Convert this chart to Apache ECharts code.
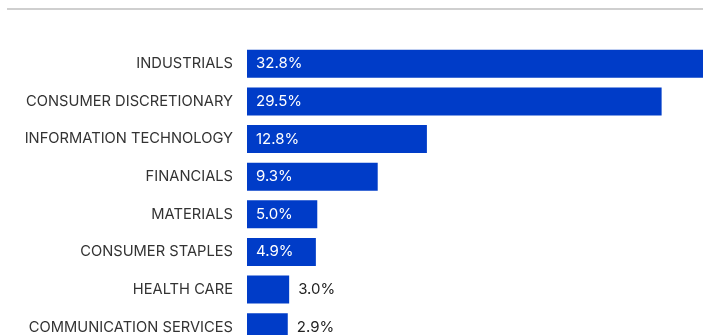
<!DOCTYPE html>
<html lang="en">
<head>
    <meta charset="UTF-8">
    <title>Sector weights</title>
    <style>
        html, body {
            width: 100%;
            height: 100%;
            margin: 0;
            padding: 0;
            overflow: hidden;
            background: #fff;
        }
        /* chart is a bit bigger than the window: top bar and last row run off the edge */
        #chart {
            width: 708px;
            height: 346px;
        }
    </style>
</head>
<body>
    <div id="chart"></div>
    <script src="https://cdn.jsdelivr.net/npm/echarts@6/dist/echarts.min.js"></script>
    <script>
        var sectors = ['INDUSTRIALS', 'CONSUMER DISCRETIONARY', 'INFORMATION TECHNOLOGY', 'FINANCIALS',
            'MATERIALS', 'CONSUMER STAPLES', 'HEALTH CARE', 'COMMUNICATION SERVICES'];
        var weights = [32.8, 29.5, 12.8, 9.3, 5.0, 4.9, 3.0, 2.9];

        var chart = echarts.init(document.getElementById('chart'));

        // small bars get their label outside
        var barData = weights.map(function(v) {
            var inside = v >= 4;
            return {
                value: v,
                label: {
                    position: inside ? 'insideLeft' : 'right',
                    distance: 9,
                    color: inside ? '#fff' : '#222'
                }
            };
        });

        chart.setOption({
            animation: false,
            grid: {
                left: 247,
                right: 0,
                top: 45,
                bottom: 0
            },
            graphic: [{
                type: 'line',
                shape: { x1: 7, y1: 9, x2: 708, y2: 9 },
                style: { stroke: '#cfcfcf', lineWidth: 2 }
            }],
            xAxis: {
                type: 'value',
                min: 0,
                max: 32.8,
                show: false
            },
            yAxis: {
                type: 'category',
                data: sectors,
                inverse: true,
                axisLine: { show: false },
                axisTick: { show: false },
                axisLabel: {
                    margin: 14,
                    color: '#333',
                    fontFamily: 'Inter',
                    fontSize: 14.7
                }
            },
            series: [{
                type: 'bar',
                data: barData,
                barWidth: 28,
                itemStyle: { color: '#003cc8' },
                label: {
                    show: true,
                    fontFamily: 'Inter',
                    fontSize: 15,
                    formatter: function(p) { return p.value.toFixed(1) + '%'; }
                }
            }]
        });
    </script>
</body>
</html>
